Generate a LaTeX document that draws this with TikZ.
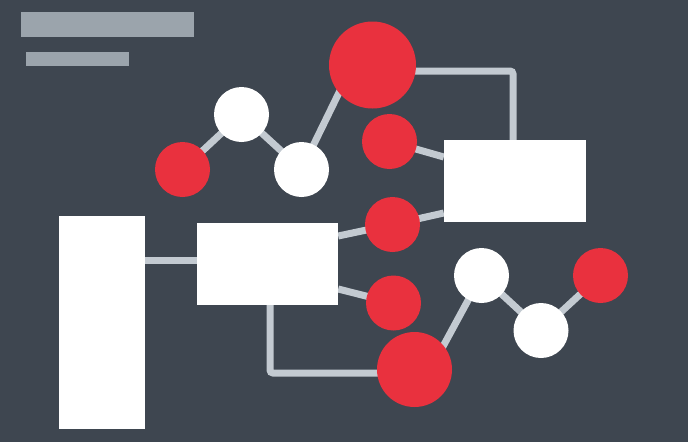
\documentclass[tikz,border=0pt]{standalone}
\definecolor{bgc}{HTML}{3E4650}
\definecolor{redc}{HTML}{E9313E}
\definecolor{linec}{HTML}{C3CAD1}
\definecolor{barc}{HTML}{9BA4AC}
\pgfdeclarelayer{back}
\pgfdeclarelayer{edges}
\pgfsetlayers{back,edges,main}
\tikzset{
  dot/.style={circle,inner sep=0pt,minimum size=55pt,draw=none},
  reddot/.style={dot,fill=redc},
  whitedot/.style={dot,fill=white},
  bigdot/.style={circle,inner sep=0pt,draw=none,fill=redc},
  box/.style={rectangle,inner sep=0pt,fill=white,draw=none},
  bar/.style={rectangle,inner sep=0pt,fill=barc,draw=none},
  conn/.style={draw=linec,line width=7pt,rounded corners=3pt}
}
\begin{document}
\begin{tikzpicture}[x=1pt,y=-1pt]
\begin{pgfonlayer}{back}
\fill[bgc] (0,0) rectangle (688,442);
\end{pgfonlayer}
\useasboundingbox (0,0) rectangle (688,442);
% header bars
\node[bar,minimum width=173pt,minimum height=25pt] (bar1) at (107.5,24.5) {};
\node[bar,minimum width=103pt,minimum height=14pt] (bar2) at (77.5,59) {};
% boxes
\node[box,minimum width=142pt,minimum height=82pt] (rr) at (515,181) {};
\node[box,minimum width=141pt,minimum height=82pt] (mr) at (267.5,264) {};
\node[box,minimum width=86pt,minimum height=213pt] (lr) at (102,322.5) {};
% circles
\node[bigdot,minimum size=87pt] (b1) at (372.5,65) {};
\node[bigdot,minimum size=75pt] (b2) at (414.5,369.5) {};
\node[reddot] (r1) at (182.5,169.5) {};
\node[whitedot] (w1) at (241.5,114.5) {};
\node[whitedot] (w2) at (301.5,169.5) {};
\node[reddot] (r2) at (389.5,141.5) {};
\node[reddot] (r3) at (392.5,224.5) {};
\node[reddot] (r4) at (393.5,303) {};
\node[whitedot] (w3) at (481.5,275.5) {};
\node[whitedot] (w4) at (541,330.5) {};
\node[reddot] (r5) at (600.5,275.5) {};
% connectors
\coordinate (c1) at (513,71);
\coordinate (c2) at (270,373);
\coordinate (lm) at ([yshift=4pt]mr.west);
\begin{pgfonlayer}{edges}
\draw[conn] (r1.center) -- (w1.center) -- (w2.center) -- ([xshift=-20pt]b1.center);
\draw[conn] (b1.center |- c1) -- (c1) -- (rr.north -| c1);
\draw[conn] (r2.center) -- ([yshift=24pt]rr.west);
\draw[conn] (r3.center) -- ([yshift=-32pt]rr.west);
\draw[conn] ([yshift=28pt]mr.east) -- (r3.center);
\draw[conn] ([yshift=-25pt]mr.east) -- (r4.center);
\draw[conn] (lm) -- (lr.east |- lm);
\draw[conn] ([xshift=2.5pt]mr.south) -- (c2) -- (b2.center |- c2);
\draw[conn] ([xshift=16pt]b2.center) -- (w3.center) -- (w4.center) -- (r5.center);
\end{pgfonlayer}
\end{tikzpicture}
\end{document}
